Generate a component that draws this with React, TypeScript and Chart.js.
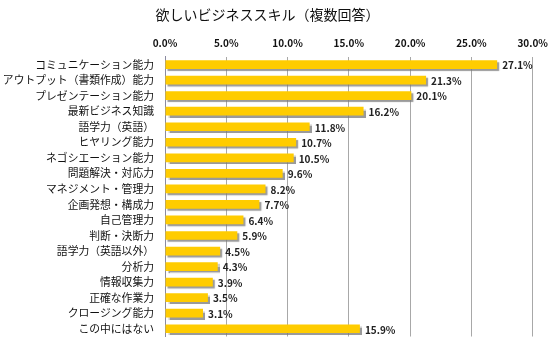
import React, { useEffect, useRef } from "react";
import { Chart, registerables } from "chart.js";

Chart.register(...registerables);

const titleText = "欲しいビジネススキル（複数回答）";
const categories = [
  "コミュニケーション能力",
  "アウトプット（書類作成）能力",
  "プレゼンテーション能力",
  "最新ビジネス知識",
  "語学力（英語）",
  "ヒヤリング能力",
  "ネゴシエーション能力",
  "問題解決・対応力",
  "マネジメント・管理力",
  "企画発想・構成力",
  "自己管理力",
  "判断・決断力",
  "語学力（英語以外）",
  "分析力",
  "情報収集力",
  "正確な作業力",
  "クロージング能力",
  "この中にはない",
];
const values = [27.1, 21.3, 20.1, 16.2, 11.8, 10.7, 10.5, 9.6, 8.2, 7.7, 6.4, 5.9, 4.5, 4.3, 3.9, 3.5, 3.1, 15.9];
const xMin = 0;
const xMax = 30;
const xStep = 5;

const FONT = "'Noto Sans CJK JP', 'Noto Sans', sans-serif";

const shadowPlugin = {
  id: "barShadow",
  beforeDatasetsDraw(chart: any) {
    const ctx = chart.ctx;
    ctx.save();
    ctx.shadowColor = "rgba(120,120,120,0.75)";
    ctx.shadowOffsetX = 2;
    ctx.shadowOffsetY = 2;
    ctx.shadowBlur = 1;
  },
  afterDatasetsDraw(chart: any) {
    chart.ctx.restore();
  },
};

const labelPlugin = {
  id: "barLabels",
  afterDatasetsDraw(chart: any) {
    const ctx = chart.ctx;
    const meta = chart.getDatasetMeta(0);
    ctx.save();
    ctx.font = "bold 10px " + FONT;
    ctx.fillStyle = "#222";
    ctx.textAlign = "left";
    ctx.textBaseline = "middle";
    meta.data.forEach((bar: any, i: number) => {
      ctx.fillText(values[i].toFixed(1) + "%", bar.x + 5, bar.y + 1);
    });
    ctx.restore();
  },
};

export default function App() {
  const ref = useRef<HTMLCanvasElement | null>(null);
  useEffect(() => {
    document.body.style.margin = "0";
    const canvas = ref.current!;
    const chart = new Chart(canvas, {
      type: "bar",
      data: {
        labels: categories,
        datasets: [
          {
            data: values,
            backgroundColor: "#FFCC00",
            borderWidth: 0,
            barPercentage: 0.56,
            categoryPercentage: 1,
          },
        ],
      },
      plugins: [shadowPlugin, labelPlugin],
      options: {
        indexAxis: "y",
        animation: false,
        responsive: false,
        devicePixelRatio: 1,
        layout: { padding: { left: 0, right: 21, top: 0, bottom: 10 } },
        plugins: {
          legend: { display: false },
          tooltip: { enabled: false },
          title: {
            display: true,
            text: titleText,
            color: "#111",
            font: { family: FONT, size: 14, weight: "normal" },
            padding: { top: 6, bottom: 6 },
          },
        },
        scales: {
          x: {
            position: "top",
            min: xMin,
            max: xMax,
            ticks: {
              stepSize: xStep,
              color: "#111",
              font: { family: FONT, size: 10, weight: "bold" },
              padding: 8,
              callback: (v: any) => Number(v).toFixed(1) + "%",
            },
            grid: { color: "#a8a8a8", drawTicks: false, lineWidth: 1 },
            border: { display: false },
            afterFit: (s: any) => {
              s.height = 28;
            },
          },
          y: {
            ticks: {
              color: "#111",
              font: { family: FONT, size: 10.8 },
              padding: 11,
              autoSkip: false,
            },
            grid: { display: false, drawTicks: false },
            border: { display: true, color: "#8a8aa0", width: 1 },
            afterFit: (s: any) => {
              s.width = 165;
            },
          },
        },
      },
    } as any);
    return () => chart.destroy();
  }, []);
  return <canvas ref={ref} width={556} height={354} style={{ display: "block" }} />;
}
